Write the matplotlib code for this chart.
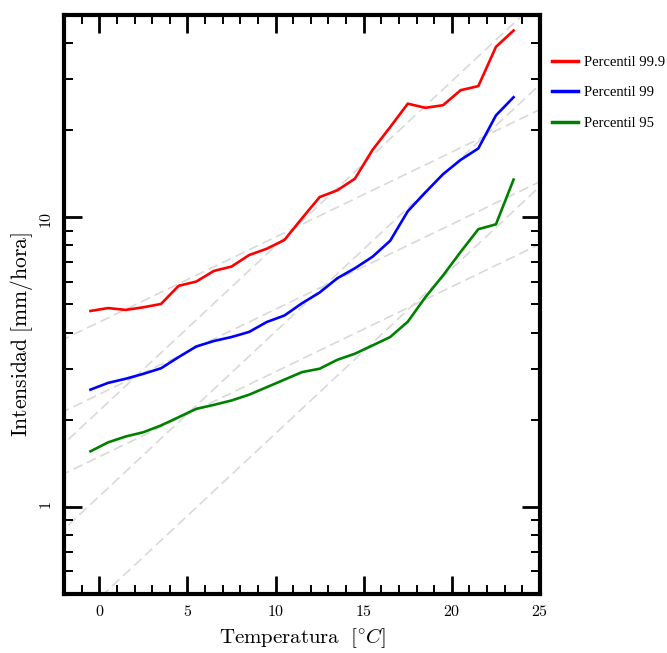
import numpy as np
import matplotlib.pyplot as plt
from matplotlib.ticker import MultipleLocator, LogLocator, FixedLocator, FixedFormatter, NullFormatter

plt.rcParams['mathtext.fontset'] = 'cm'
plt.rcParams['axes.formatter.use_mathtext'] = True

# temperatura (centro de cada bin)
temps = [-0.5, 0.5, 1.5, 2.5, 3.5, 4.5, 5.5, 6.5, 7.5, 8.5, 9.5, 10.5, 11.5,
         12.5, 13.5, 14.5, 15.5, 16.5, 17.5, 18.5, 19.5, 20.5, 21.5, 22.5, 23.5]

p999 = [4.75, 4.86, 4.79, 4.89, 5.02, 5.80, 6.00, 6.53, 6.76, 7.41, 7.79, 8.35, 9.93,
        11.75, 12.4, 13.6, 17.1, 20.5, 24.7, 23.9, 24.4, 27.5, 28.4, 38.8, 44.2]
p99 = [2.54, 2.68, 2.77, 2.88, 3.01, 3.29, 3.58, 3.74, 3.86, 4.02, 4.35, 4.58, 5.05,
       5.50, 6.16, 6.67, 7.31, 8.30, 10.5, 12.2, 14.1, 15.8, 17.3, 22.5, 26.0]
p95 = [1.555, 1.67, 1.75, 1.81, 1.91, 2.04, 2.18, 2.25, 2.33, 2.44, 2.59, 2.75, 2.92,
       3.00, 3.22, 3.38, 3.61, 3.86, 4.36, 5.3, 6.3, 7.6, 9.1, 9.46, 13.5]

labels = ['Percentil 99.9', 'Percentil 99', 'Percentil 95']
colors = ['red', 'blue', 'green']

# rectas de referencia (Clausius-Clapeyron): punto de anclaje y tasas
ref_temp = [11.1, 12.8, 17.75]
ref_int = [9.21, 5.82, 4.95]
cc_rates = [1.07, 1.14]

fig = plt.figure(figsize=(6.67, 6.53), dpi=100)
ax = fig.add_axes([0.096, 0.0904, 0.7136, 0.8866])

t_ref = np.array([-3.0, 26.0])
for T0, I0 in zip(ref_temp, ref_int):
    for r in cc_rates:
        ax.plot(t_ref, I0 * r ** (t_ref - T0), color='#d9d9d9', lw=1.2,
                dashes=(6, 3), zorder=1)

for serie, lab, col in zip([p999, p99, p95], labels, colors):
    ax.plot(temps, serie, color=col, lw=1.9, label=lab, zorder=3)

ax.set_yscale('log')
ax.set_xlim(-2, 25)
ax.set_ylim(0.5, 50)

ax.set_xticks([0, 5, 10, 15, 20, 25])
ax.set_xticklabels(['$0$', '$5$', '$10$', '$15$', '$20$', '$25$'])
ax.xaxis.set_minor_locator(MultipleLocator(1))
ax.yaxis.set_major_locator(FixedLocator([1, 10]))
ax.yaxis.set_major_formatter(FixedFormatter(['$1$', '$10$']))
ax.yaxis.set_minor_locator(LogLocator(base=10, subs=np.arange(2, 10)))
ax.yaxis.set_minor_formatter(NullFormatter())

ax.tick_params(which='both', direction='in', top=True, right=True)
ax.tick_params(which='major', length=13, width=2.0, labelsize=11.5, pad=7)
ax.tick_params(which='minor', length=6.5, width=1.4)
ax.tick_params(axis='y', labelrotation=90)
for s in ax.spines.values():
    s.set_linewidth(3)

ax.set_xlabel(r'$\mathrm{Temperatura}\ \ [^{\circ}C]$', fontsize=15)
ax.set_ylabel(r'$\mathrm{Intensidad\ [mm/hora]}$', fontsize=15.5)
ax.yaxis.set_label_coords(-0.062, 0.449)
ax.xaxis.set_label_coords(0.5, -0.055)

ax.legend(loc='upper left', bbox_to_anchor=(1.025, 0.93), frameon=False,
          borderaxespad=0, borderpad=0, handlelength=1.8, handletextpad=0.4,
          labelspacing=1.2, prop={'family': 'Liberation Serif', 'size': 10.5})
for h in ax.get_legend().get_lines():
    h.set_linewidth(2.5)

fig.savefig('out.png', dpi=100)
